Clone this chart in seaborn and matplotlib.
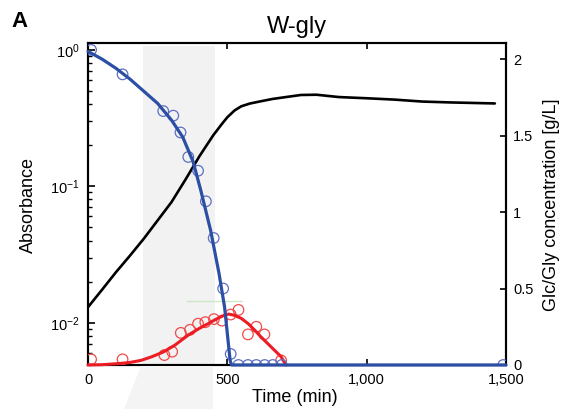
import numpy as np
import pandas as pd
import matplotlib
matplotlib.use("Agg")
import matplotlib.pyplot as plt
import matplotlib.patches as mpatches
import seaborn as sns

# ---------------- data ----------------
# Absorbance (left, log axis) - black curve
abs_t = [0, 50, 100, 150, 200, 250, 300, 350, 400, 450, 480, 500, 526, 550, 580, 620,
         660, 700, 764, 820, 900, 1000, 1100, 1200, 1300, 1460]
abs_v = [0.0130, 0.0174, 0.0234, 0.0309, 0.0412, 0.0562, 0.0767, 0.112, 0.166, 0.237,
         0.285, 0.320, 0.359, 0.385, 0.403, 0.419, 0.435, 0.447, 0.466, 0.468, 0.450,
         0.441, 0.431, 0.417, 0.411, 0.404]

# Glycerol (right axis) - blue
gly_pt_t = [11, 124, 270, 306, 332, 360, 395, 423, 451, 485, 512, 540, 574, 604, 634, 663, 695, 1490]
gly_pt_v = [2.06, 1.90, 1.66, 1.63, 1.52, 1.36, 1.27, 1.07, 0.83, 0.50, 0.072, 0, 0, 0, 0, 0, 0, 0]
gly_fit_t = [0, 50, 100, 150, 200, 250, 300, 340, 377, 405, 440, 470, 490, 510, 515, 1500]
gly_fit_v = [2.05, 2.00, 1.94, 1.87, 1.79, 1.71, 1.60, 1.49, 1.33, 1.14, 0.88, 0.60, 0.38, 0.03, 0.0, 0.0]

# By-product (right axis) - red
red_pt_t = [11, 124, 274, 302, 333, 366, 395, 421, 452, 481, 512, 540, 574, 604, 633, 693]
red_pt_v = [0.037, 0.037, 0.065, 0.087, 0.21, 0.23, 0.27, 0.28, 0.30, 0.29, 0.33, 0.36,
            0.20, 0.25, 0.20, 0.03]
red_fit_t = [0, 50, 100, 145, 190, 229, 270, 312, 360, 400, 431, 460, 485, 505, 525, 550,
             575, 597, 620, 645, 670, 693, 710]
red_fit_v = [0.0, 0.002, 0.008, 0.015, 0.030, 0.054, 0.085, 0.130, 0.196, 0.240, 0.270,
             0.300, 0.322, 0.333, 0.325, 0.305, 0.270, 0.230, 0.185, 0.140, 0.095, 0.054, 0.0]

# faint green marker line
green_t = [354, 552]
green_v = [0.42, 0.42]

# shaded window
window = (196, 454)

xticks = [0, 500, 1000, 1500]
xticklabels = ["0", "500", "1,000", "1,500"]
rticks = [0, 0.5, 1, 1.5, 2]
rticklabels = ["0", "0.5", "1", "1.5", "2"]

# ---------------- style ----------------
sns.set_style("ticks")
plt.rcParams["font.family"] = ["Liberation Sans", "DejaVu Sans"]
plt.rcParams["mathtext.default"] = "regular"
for k in ("text.color", "axes.labelcolor", "xtick.color", "ytick.color"):
    plt.rcParams[k] = "black"

W, H = 563, 409
fig = plt.figure(figsize=(W / 100, H / 100), dpi=100)
ax = fig.add_axes([88 / W, 1 - 365 / H, (506 - 88) / W, (365 - 43) / H])
ax2 = ax.twinx()

BLUE = "#2b4fa5"
BLUE_PT = "#5d6fc2"
RED = "#ec1c24"
RED_PT = "#f04a4a"

# gray window
ax.axvspan(window[0], window[1], ymin=0, ymax=0.99, color="#f2f2f2", lw=0, zorder=0)
# funnel below the axis
poly = mpatches.Polygon([(141 / W, 1 - 366 / H), (213 / W, 1 - 366 / H),
                         (213 / W, 0), (124 / W, 0)],
                        closed=True, transform=fig.transFigure, color="#f4f4f4", lw=0, zorder=0)
fig.patches.append(poly)

df_abs = pd.DataFrame({"t": abs_t, "v": abs_v})
sns.lineplot(data=df_abs, x="t", y="v", ax=ax, color="black", lw=1.9, sort=False, zorder=3)
ax.set_yscale("log")
ax.set_ylim(0.0049, 1.12)
ax.set_xlim(0, 1500)

df_gf = pd.DataFrame({"t": gly_fit_t, "v": gly_fit_v})
df_gp = pd.DataFrame({"t": gly_pt_t, "v": gly_pt_v})
df_rf = pd.DataFrame({"t": red_fit_t, "v": red_fit_v})
df_rp = pd.DataFrame({"t": red_pt_t, "v": red_pt_v})
df_gr = pd.DataFrame({"t": green_t, "v": green_v})

sns.lineplot(data=df_gr, x="t", y="v", ax=ax2, color="#cde8c6", lw=1.0, sort=False, zorder=2)
sns.scatterplot(data=df_rp, x="t", y="v", ax=ax2, marker="o", s=58,
                facecolors="none", edgecolor=RED_PT, linewidth=0.9, zorder=3)
sns.lineplot(data=df_rf, x="t", y="v", ax=ax2, color=RED, lw=2.2, sort=False, zorder=4)
sns.scatterplot(data=df_gp, x="t", y="v", ax=ax2, marker="o", s=58,
                facecolors="none", edgecolor=BLUE_PT, linewidth=0.9, zorder=5)
sns.lineplot(data=df_gf, x="t", y="v", ax=ax2, color=BLUE, lw=2.3, sort=False, zorder=6)
for ln in ax2.get_lines():
    ln.set_clip_on(False)

ax2.set_ylim(0, 2.105)
ax2.set_xlim(0, 1500)

# ticks
ax.set_xticks(xticks)
ax.set_xticklabels(xticklabels)
ax.tick_params(axis="x", direction="in", top=True, length=4, width=1.2, labelsize=10.5, pad=6)
ax.tick_params(axis="y", which="major", direction="in", length=5, width=1.2, labelsize=10.5, pad=6)
ax.tick_params(axis="y", which="minor", direction="in", length=3, width=1.0)
ax2.set_yticks(rticks)
ax2.set_yticklabels(rticklabels)
ax2.tick_params(axis="y", direction="in", length=4, width=1.2, labelsize=10.5, pad=5)
ax2.minorticks_off()

for a in (ax, ax2):
    for s in a.spines.values():
        s.set_visible(True)
        s.set_linewidth(1.5)
        s.set_color("black")

ax.set_xlabel("")
ax.set_ylabel("")
ax2.set_xlabel("")
ax2.set_ylabel("")
fig.text(295 / W, 1 - 398 / H, "Time (min)", ha="center", va="center", fontsize=13)
fig.text(28 / W, 1 - 205 / H, "Absorbance", ha="center", va="center", rotation=90, fontsize=13)
fig.text(551 / W, 1 - 205 / H, "Glc/Gly concentration [g/L]", ha="center", va="center",
         rotation=90, fontsize=13)
fig.text(297 / W, 1 - 27 / H, "W-gly", ha="center", va="center", fontsize=17)
fig.text(11 / W, 1 - 11 / H, "A", ha="left", va="top", fontsize=16, fontweight="bold")

fig.savefig("out.png", dpi=100)
